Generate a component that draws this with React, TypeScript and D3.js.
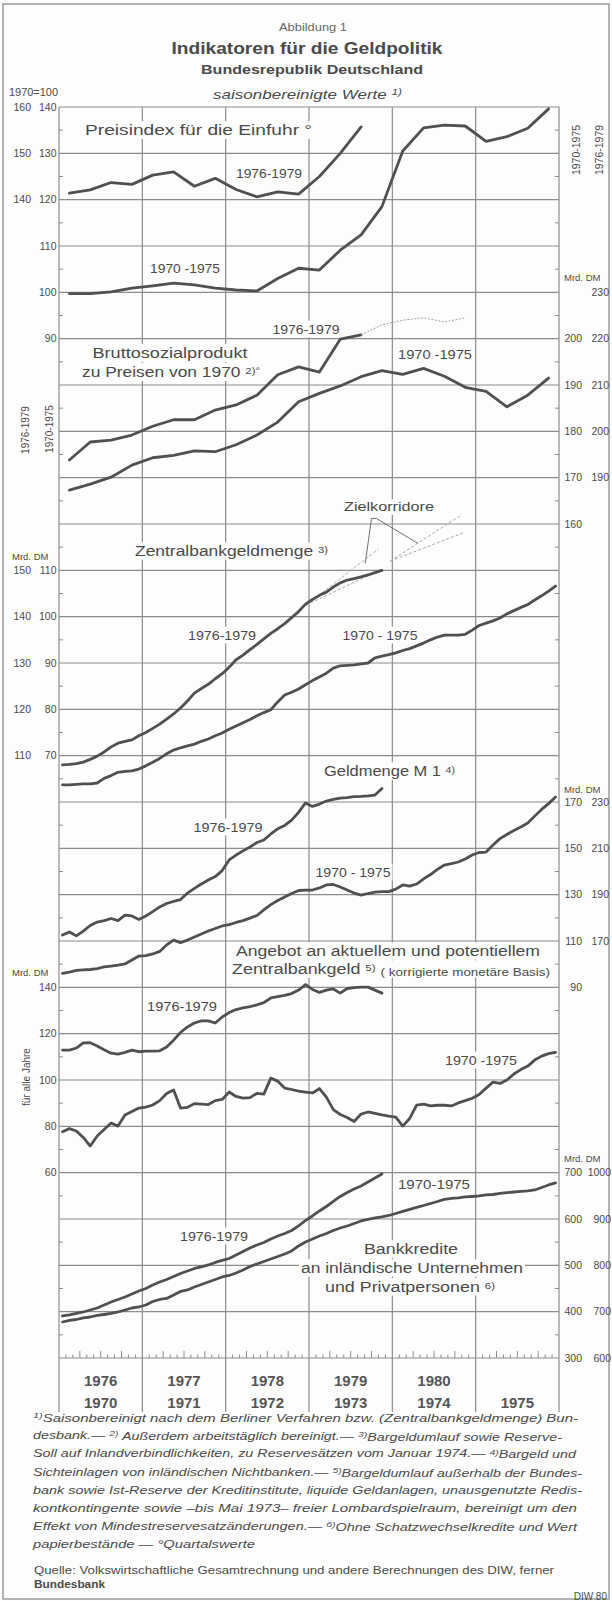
import * as d3 from "d3";

// ---- data ----
const topYears = ["1976", "1977", "1978", "1979", "1980", ""];
const bottomYears = ["1970", "1971", "1972", "1973", "1974", "1975"];

// Preisindex für die Einfuhr, quarterly, 1970=100
const importPrice7075 = [99.7, 99.7, 100.1, 100.9, 101.4, 102.0, 101.6, 100.9, 100.5, 100.3, 103.0, 105.2, 104.8, 109.1, 112.4, 118.5, 130.5, 135.5, 136.1, 135.9, 132.6, 133.6, 135.4, 139.6];
const importPrice7679 = [141.4, 142.1, 143.7, 143.3, 145.3, 146.0, 142.9, 144.6, 142.2, 140.6, 141.7, 141.2, 145.0, 150.0, 155.7];

// Bruttosozialprodukt zu Preisen von 1970, quarterly, Mrd. DM
const gnp7075 = [167.3, 168.6, 170.1, 172.7, 174.3, 174.8, 175.8, 175.6, 177.1, 179.2, 182.0, 186.4, 188.2, 189.8, 191.8, 193.1, 192.3, 193.6, 191.9, 189.5, 188.6, 185.3, 187.8, 191.5];
const gnp7679 = [193.8, 197.7, 198.1, 199.2, 201.1, 202.5, 202.5, 204.6, 205.7, 207.8, 212.2, 213.9, 212.8, 219.9, 220.8];
const gnp7679Extra = [220.8, 223.0, 224.0, 224.5, 223.6, 224.5]; // from quarter 15 on, thin grey

// Zentralbankgeldmenge, monthly, Mrd. DM
const cbm7075 = [63.7, 63.7, 63.8, 63.9, 63.9, 64.1, 65.1, 65.7, 66.4, 66.6, 66.7, 67.1, 67.8, 68.6, 69.4, 70.4, 71.2, 71.7, 72.1, 72.5, 73.1, 73.6, 74.3, 74.9, 75.7, 76.4, 77.1, 77.8, 78.6, 79.3, 79.9, 81.6, 83.1, 83.7, 84.4, 85.3, 86.2, 87.0, 87.8, 88.9, 89.4, 89.5, 89.6, 89.8, 90.0, 91.1, 91.5, 91.8, 92.2, 92.7, 93.1, 93.7, 94.3, 95.0, 95.6, 96.0, 96.0, 96.0, 96.2, 97.1, 98.1, 98.6, 99.1, 99.7, 100.6, 101.3, 102.0, 102.6, 103.6, 104.5, 105.5, 106.6];
const cbm7679 = [108.0, 108.1, 108.3, 108.6, 109.2, 109.9, 110.8, 111.9, 112.7, 113.1, 113.4, 114.3, 115.0, 115.9, 116.8, 117.9, 119.0, 120.3, 121.8, 123.5, 124.5, 125.4, 126.6, 127.7, 129.1, 130.7, 131.7, 132.9, 134.0, 135.2, 136.4, 137.4, 138.5, 139.8, 141.1, 142.7, 143.7, 144.6, 145.3, 146.4, 147.3, 147.9, 148.2, 148.6, 149.0, 149.5, 150.0];
// Zielkorridore: [month, value] start and two ends
const corridors = [
  { start: [35.6, 142.5], upper: [46.0, 154.6], lower: [46.0, 149.9] },
  { start: [47.7, 152.0], upper: [58.0, 162.0], lower: [58.2, 158.1] },
];

// Geldmenge M1, monthly, Mrd. DM
const m17075 = [96.0, 96.6, 97.3, 97.5, 97.7, 98.1, 98.8, 99.2, 99.6, 100.1, 101.8, 103.5, 103.7, 104.4, 105.5, 108.3, 110.4, 109.3, 110.4, 111.7, 113.0, 114.3, 115.4, 116.5, 117.1, 118.0, 118.8, 119.9, 121.0, 123.4, 125.7, 127.5, 129.0, 130.5, 131.8, 132.0, 132.0, 132.9, 134.2, 134.4, 133.3, 132.0, 130.7, 129.8, 130.5, 131.1, 131.3, 131.3, 132.4, 134.2, 133.7, 134.6, 136.8, 138.7, 140.9, 142.8, 143.4, 144.1, 145.4, 147.1, 148.2, 148.4, 151.4, 154.2, 156.0, 157.7, 159.2, 160.9, 163.9, 166.8, 169.3, 172.2];
const m17679 = [172.6, 173.9, 172.2, 174.3, 176.7, 178.2, 178.8, 179.7, 178.8, 181.2, 180.8, 179.3, 180.8, 182.7, 184.7, 186.2, 187.1, 187.9, 190.7, 192.7, 194.6, 196.3, 197.8, 200.4, 205.0, 207.1, 208.9, 210.6, 212.5, 213.6, 216.2, 218.4, 219.9, 222.2, 225.5, 229.6, 228.1, 229.1, 230.4, 231.1, 231.7, 231.9, 232.3, 232.4, 232.6, 233.0, 235.8];

// Angebot an Zentralbankgeld (korrigierte monetäre Basis), monthly, Mrd. DM
const base7075 = [77.7, 79.0, 78.0, 75.2, 71.5, 75.8, 78.6, 81.4, 80.1, 84.9, 86.4, 87.9, 88.3, 89.2, 91.1, 94.2, 95.7, 87.9, 88.2, 89.8, 89.6, 89.4, 91.1, 91.6, 94.8, 92.9, 92.2, 92.4, 94.2, 93.9, 100.8, 99.5, 96.5, 95.9, 95.2, 94.8, 94.4, 96.3, 92.6, 87.2, 85.1, 83.8, 82.1, 85.3, 86.2, 85.6, 84.9, 84.4, 84.0, 80.1, 83.4, 89.2, 89.6, 88.8, 89.1, 89.1, 88.8, 90.1, 91.1, 92.1, 93.7, 96.5, 99.1, 98.5, 100.0, 102.6, 104.5, 106.0, 108.6, 110.3, 111.4, 111.9];
const base7679 = [112.9, 112.9, 113.8, 116.0, 116.1, 114.7, 113.1, 111.6, 111.2, 111.9, 112.9, 112.2, 112.5, 112.5, 112.6, 114.2, 117.2, 120.5, 122.9, 124.6, 125.5, 125.5, 124.6, 127.2, 129.1, 130.4, 131.1, 131.7, 132.4, 133.4, 135.4, 136.0, 136.5, 137.3, 138.8, 141.2, 139.1, 137.8, 138.8, 139.3, 137.5, 139.5, 139.9, 140.1, 140.1, 138.8, 137.5];

// Bankkredite an inländische Unternehmen und Privatpersonen, monthly, Mrd. DM
const credit7075 = [377.7, 381.0, 383.1, 386.4, 388.5, 391.8, 393.9, 396.1, 399.3, 403.6, 407.9, 410.1, 414.4, 422.0, 426.3, 428.5, 436.0, 443.6, 446.8, 453.3, 458.7, 464.1, 469.5, 474.9, 478.1, 483.5, 490.0, 497.5, 502.9, 508.3, 513.7, 519.1, 524.5, 531.0, 541.8, 550.4, 556.9, 563.4, 568.8, 575.2, 580.6, 584.9, 590.4, 595.7, 599.0, 602.2, 604.4, 607.6, 611.9, 616.3, 620.6, 624.9, 629.2, 633.5, 637.8, 642.2, 644.3, 645.4, 647.6, 648.6, 649.7, 651.9, 652.9, 655.1, 656.8, 658.3, 659.4, 660.5, 662.7, 668.1, 673.5, 677.8];
const credit7679 = [690.7, 692.9, 696.1, 699.3, 703.6, 707.9, 714.4, 720.9, 726.3, 731.7, 738.2, 744.7, 750.1, 757.6, 764.1, 769.5, 776.0, 782.4, 787.8, 793.2, 796.5, 800.8, 806.2, 810.5, 814.8, 822.4, 829.9, 837.5, 843.9, 849.3, 856.9, 863.4, 868.8, 875.2, 885.0, 896.8, 906.5, 917.3, 927.0, 937.8, 948.6, 957.3, 964.8, 971.3, 979.9, 988.6, 997.2];

// axis labels
const p1OuterTicks = [160, 150, 140];
const p1InnerTicks = [140, 130, 120, 110, 100, 90];
const p2InnerTicks = [200, 190, 180, 170, 160];
const p2OuterTicks = [230, 220, 210, 200, 190];
const p3OuterTicks = [150, 140, 130, 120, 110];
const p3InnerTicks = [110, 100, 90, 80, 70];
const p4InnerTicks = [170, 150, 130, 110, 90];
const p4OuterTicks = [230, 210, 190, 170];
const p5Ticks = [140, 120, 100, 80, 60];
const p6InnerTicks = [700, 600, 500, 400, 300];
const p6OuterTicks = [1000, 900, 800, 700, 600];

const footnotes = [
  ["1)", "Saisonbereinigt nach dem Berliner Verfahren bzw. (Zentralbankgeldmenge) Bun-"],
  ["", "desbank.— ", "2)", " Außerdem arbeitstäglich bereinigt.— ", "3)", "Bargeldumlauf sowie Reserve-"],
  ["", "Soll auf Inlandverbindlichkeiten, zu Reservesätzen vom Januar 1974.— ", "4)", "Bargeld und"],
  ["", "Sichteinlagen von inländischen Nichtbanken.— ", "5)", "Bargeldumlauf außerhalb der Bundes-"],
  ["", "bank sowie Ist-Reserve der Kreditinstitute, liquide Geldanlagen, unausgenutzte Redis-"],
  ["", "kontkontingente sowie –bis Mai 1973– freier Lombardspielraum, bereinigt um den"],
  ["", "Effekt von Mindestreservesatzänderungen.— ", "6)", "Ohne Schatzwechselkredite und Wert"],
  ["", "papierbestände — °Quartalswerte"],
];
const footnoteWidths = [545, 529, 543, 549, 549, 544, 544, 222];

// ---- layout ----
const W = 612;
const H = 1601;
const left = 59;
const right = 559;
const ink = "#505050";
const grid = "#8c8c8c";
const font = "'Liberation Sans', Arial, sans-serif";

const x = d3.scaleLinear().domain([0, 72]).range([left, right]);
const g = d3.scaleLinear().domain([0, 27]).range([107, 1358]);
const band = (hi: number, lo: number, k0: number, k1: number) =>
  d3.scaleLinear().domain([hi, lo]).range([g(k0), g(k1)]);

const yP1In = band(140, 90, 0, 5);
const yP1Out = band(160, 110, 0, 5);
const yP2In = band(200, 160, 5, 9);
const yP2Out = band(230, 190, 4, 8);
const yP3Out = band(150, 110, 10, 14);
const yP3In = band(110, 70, 10, 14);
const yP4In = band(170, 90, 15, 19);
const yP4Out = band(230, 170, 15, 18);
const yP5 = band(140, 60, 19, 23);
const yP6In = band(700, 300, 23, 27);
const yP6Out = band(1000, 600, 23, 27);

type Pt = { m: number; v: number };
const monthly = (a: number[], off = 0): Pt[] => a.map((v, i) => ({ m: i + 0.5 + off, v }));
const quarterly = (a: number[], off = 0): Pt[] => a.map((v, i) => ({ m: 3 * (i + off) + 1.5, v }));

const path = (pts: Pt[], y: d3.ScaleLinear<number, number>) =>
  d3.line<Pt>().x((d) => x(d.m)).y((d) => y(d.v))(pts) || "";

const Label = ({ x: lx, y: ly, w, size = 13.5, anchor = "middle", weight = "normal", italic = false, bg = true, children, fill = "#4a4a4a" }: any) => {
  const l = anchor === "middle" ? lx - w / 2 : anchor === "end" ? lx - w : lx;
  return (
    <g>
      {bg && <rect x={l - 2} y={ly - size * 0.62} width={w + 4} height={size * 1.24} fill="#fdfdfd" />}
      <text x={lx} y={ly} dy="0.35em" textAnchor={anchor} fontSize={size} fontWeight={weight}
        fontStyle={italic ? "italic" : "normal"} fill={fill} textLength={w} lengthAdjust="spacingAndGlyphs">
        {children}
      </text>
    </g>
  );
};

const Sup = ({ children, size = 8.5 }: any) => (
  <>
    <tspan dy="-0.35em" fontSize={size}>{children}</tspan>
    <tspan dy="0.35em"> </tspan>
  </>
);

const TickCol = ({ ticks, y, ax, anchor = "end" }: any) => (
  <g>
    {ticks.map((t: number) => (
      <text key={t} x={ax} y={y(t)} dy="0.35em" textAnchor={anchor} fontSize={10.5} fill="#4a4a4a">{t}</text>
    ))}
  </g>
);

export default function App() {
  const gridRows = d3.range(0, 28);
  const yearBounds = d3.range(0, 7).map((i) => x(i * 12));
  const monthTicks = d3.range(1, 72).filter((m) => m % 12 !== 0);
  const line = (d: string, key: string) => (
    <path key={key} d={d} fill="none" stroke={ink} strokeWidth={2.8} strokeLinejoin="round" strokeLinecap="round" />
  );
  const corr = (p: number[]) => ({ m: p[0], v: p[1] });

  return (
    <div style={{ position: "absolute", left: 0, top: 0 }}>
      <svg width={W} height={H} style={{ display: "block", fontFamily: font }}>
        <rect width={W} height={H} fill="#fdfdfd" />
        <rect x={3} y={4} width={606} height={1595} fill="none" stroke="#9a9a9a" strokeWidth={1.5} />

        {/* header */}
        <Label x={313} y={27} w={68} size={10.5} bg={false} fill="#666">Abbildung 1</Label>
        <Label x={307} y={48} w={271} size={17} weight="bold" bg={false}>Indikatoren für die Geldpolitik</Label>
        <Label x={312} y={70} w={222} size={12.5} weight="bold" bg={false}>Bundesrepublik Deutschland</Label>
        <Label x={213} y={94} w={189} size={13} anchor="start" italic bg={false}>saisonbereinigte Werte <Sup size={9}>1)</Sup></Label>
        <Label x={9} y={92} w={49} size={10} anchor="start" bg={false}>1970=100</Label>

        {/* grid */}
        {gridRows.map((k) => (
          <line key={"h" + k} x1={left} x2={right} y1={g(k)} y2={g(k)} stroke={grid} strokeWidth={1.1} />
        ))}
        {yearBounds.map((bx, i) => (
          <line key={"v" + i} x1={bx} x2={bx} y1={g(0)} y2={1412} stroke={grid} strokeWidth={1.2} />
        ))}
        {gridRows.slice(0, 27).map((k) => (
          <g key={"mt" + k}>
            <line x1={left} x2={left + 4} y1={g(k + 0.5)} y2={g(k + 0.5)} stroke={grid} />
            <line x1={right - 4} x2={right} y1={g(k + 0.5)} y2={g(k + 0.5)} stroke={grid} />
          </g>
        ))}
        {monthTicks.map((m) => (
          <line key={"t" + m} x1={x(m)} x2={x(m)} y1={g(27)} y2={g(27) - (m % 3 === 0 ? 7 : 3.5)} stroke={grid} />
        ))}

        {/* axis labels left */}
        <TickCol ticks={p1OuterTicks} y={yP1Out} ax={31} />
        <TickCol ticks={p1InnerTicks} y={yP1In} ax={56.5} />
        <text x={12} y={557} dy="0.35em" fontSize={9.5} fill="#4a4a4a">Mrd. DM</text>
        <TickCol ticks={p3OuterTicks} y={yP3Out} ax={31} />
        <TickCol ticks={p3InnerTicks} y={yP3In} ax={56.5} />
        <text x={12} y={973} dy="0.35em" fontSize={9.5} fill="#4a4a4a">Mrd. DM</text>
        <TickCol ticks={p5Ticks} y={yP5} ax={56.5} />
        <text transform="translate(25,430) rotate(-90)" textAnchor="middle" dy="0.35em" fontSize={10} fill="#4a4a4a">1976-1979</text>
        <text transform="translate(49,429) rotate(-90)" textAnchor="middle" dy="0.35em" fontSize={10} fill="#4a4a4a">1970-1975</text>
        <text transform="translate(26,1077) rotate(-90)" textAnchor="middle" dy="0.35em" fontSize={10} fill="#4a4a4a">für alle Jahre</text>

        {/* axis labels right */}
        <text transform="translate(576,150) rotate(-90)" textAnchor="middle" dy="0.35em" fontSize={10.5} fill="#4a4a4a">1970-1975</text>
        <text transform="translate(599,150) rotate(-90)" textAnchor="middle" dy="0.35em" fontSize={10.5} fill="#4a4a4a">1976-1979</text>
        <text x={564} y={278} dy="0.35em" fontSize={9.5} fill="#4a4a4a">Mrd. DM</text>
        <TickCol ticks={p2InnerTicks} y={yP2In} ax={582} />
        <TickCol ticks={p2OuterTicks} y={yP2Out} ax={609} />
        <text x={564} y={790} dy="0.35em" fontSize={9.5} fill="#4a4a4a">Mrd. DM</text>
        <TickCol ticks={p4InnerTicks} y={yP4In} ax={582} />
        <TickCol ticks={p4OuterTicks} y={yP4Out} ax={609} />
        <text x={564} y={1159} dy="0.35em" fontSize={9.5} fill="#4a4a4a">Mrd. DM</text>
        <TickCol ticks={p6InnerTicks} y={yP6In} ax={582} />
        <TickCol ticks={p6OuterTicks} y={yP6Out} ax={611} />

        {/* panel labels */}
        <Label x={85} y={130} w={227} size={14.5} anchor="start">Preisindex für die Einfuhr °</Label>
        <Label x={269} y={173} w={66}>1976-1979</Label>
        <Label x={185} y={268} w={70}>1970 -1975</Label>

        <Label x={306} y={329} w={67}>1976-1979</Label>
        <Label x={170} y={353} w={155} size={14.5}>Bruttosozialprodukt</Label>
        <Label x={82} y={372} w={178} size={14.5} anchor="start">zu Preisen von 1970 <Sup size={9.5}>2)°</Sup></Label>
        <Label x={435} y={354} w={74}>1970 -1975</Label>

        <Label x={389} y={507} w={90} size={12.5}>Zielkorridore</Label>
        <Label x={135} y={551} w={193} size={14} anchor="start">Zentralbankgeldmenge <Sup size={9}>3)</Sup></Label>
        <Label x={222} y={635} w={68}>1976-1979</Label>
        <Label x={380} y={635} w={75}>1970 - 1975</Label>

        <Label x={324} y={771} w={131} size={14} anchor="start">Geldmenge M 1 <Sup size={9}>4)</Sup></Label>
        <Label x={228} y={827} w={69}>1976-1979</Label>
        <Label x={353} y={872} w={75}>1970 - 1975</Label>

        <Label x={388} y={951} w={304} size={14}>Angebot an aktuellem und potentiellem</Label>
        <Label x={232} y={969} w={318} size={14} anchor="start">Zentralbankgeld <Sup size={9}>5)</Sup><tspan fontSize={10.5}>( korrigierte monetäre Basis)</tspan></Label>
        <Label x={182} y={1006} w={70}>1976-1979</Label>
        <Label x={481} y={1060} w={72}>1970 -1975</Label>

        <Label x={434} y={1184} w={72}>1970-1975</Label>
        <Label x={214} y={1236} w={68}>1976-1979</Label>
        <Label x={411} y={1249} w={94} size={14}>Bankkredite</Label>
        <Label x={412} y={1268} w={222} size={14}>an inländische Unternehmen</Label>
        <Label x={410} y={1287} w={170} size={14}>und Privatpersonen <Sup size={9}>6)</Sup></Label>

        {/* Zielkorridore */}
        {corridors.map((c, i) => (
          <g key={"c" + i} stroke="#a8a8a8" strokeWidth={1} strokeDasharray="3,2" fill="none">
            <path d={path([corr(c.start), corr(c.upper)], yP3Out)} />
            <path d={path([corr(c.start), corr(c.lower)], yP3Out)} />
          </g>
        ))}
        <path d={path([{ m: 44.1, v: 151.5 }, { m: 45.0, v: 161.2 }, { m: 45.7, v: 161.2 }, { m: 51.7, v: 155.8 }], yP3Out)}
          fill="none" stroke="#707070" strokeWidth={1} />

        {/* series */}
        {line(path(quarterly(importPrice7075), yP1In), "ip70")}
        {line(path(quarterly(importPrice7679), yP1Out), "ip76")}
        {line(path(quarterly(gnp7075), yP2In), "g70")}
        {line(path(quarterly(gnp7679), yP2Out), "g76")}
        <path d={path(quarterly(gnp7679Extra, 14), yP2Out)} fill="none" stroke="#a0a0a0" strokeWidth={1} strokeDasharray="2,1.5" />
        {line(path(monthly(cbm7075), yP3In), "c70")}
        {line(path(monthly(cbm7679), yP3Out), "c76")}
        {line(path(monthly(m17075), yP4In), "m70")}
        {line(path(monthly(m17679), yP4Out), "m76")}
        {line(path(monthly(base7075), yP5), "b70")}
        {line(path(monthly(base7679), yP5), "b76")}
        {line(path(monthly(credit7075), yP6In), "k70")}
        {line(path(monthly(credit7679), yP6Out), "k76")}

        {/* year labels */}
        {topYears.map((t, i) => (
          <text key={"ty" + i} x={x(i * 12 + 6)} y={1381} dy="0.35em" textAnchor="middle" fontSize={15} fontWeight="bold" fill="#555">{t}</text>
        ))}
        {bottomYears.map((t, i) => (
          <text key={"by" + i} x={x(i * 12 + 6)} y={1403} dy="0.35em" textAnchor="middle" fontSize={15} fontWeight="bold" fill="#555">{t}</text>
        ))}

        {/* footnotes */}
        {footnotes.map((parts, i) => (
          <text key={"f" + i} x={33} y={1421 + i * 18.2} dy="0.35em" fontSize={11} fontStyle="italic" fill="#4a4a4a"
            textLength={footnoteWidths[i]} lengthAdjust="spacingAndGlyphs">
            {parts.map((p, j) =>
              j % 2 === 0 ? (p ? <tspan key={j} dy="-0.35em" fontSize={8}>{p}</tspan> : null) : (
                <tspan key={j} dy={parts[j - 1] ? "0.35em" : 0}>{p}</tspan>
              )
            )}
          </text>
        ))}
        <text x={34} y={1570} dy="0.35em" fontSize={11} fill="#4a4a4a" textLength={520} lengthAdjust="spacingAndGlyphs">
          Quelle: Volkswirtschaftliche Gesamtrechnung und andere Berechnungen des DIW, ferner
        </text>
        <text x={34} y={1584} dy="0.35em" fontSize={11} fontWeight="bold" fill="#4a4a4a" textLength={71} lengthAdjust="spacingAndGlyphs">Bundesbank</text>
        <text x={607} y={1596} dy="0.35em" fontSize={10} textAnchor="end" fill="#4a4a4a">DIW 80</text>
      </svg>
    </div>
  );
}
